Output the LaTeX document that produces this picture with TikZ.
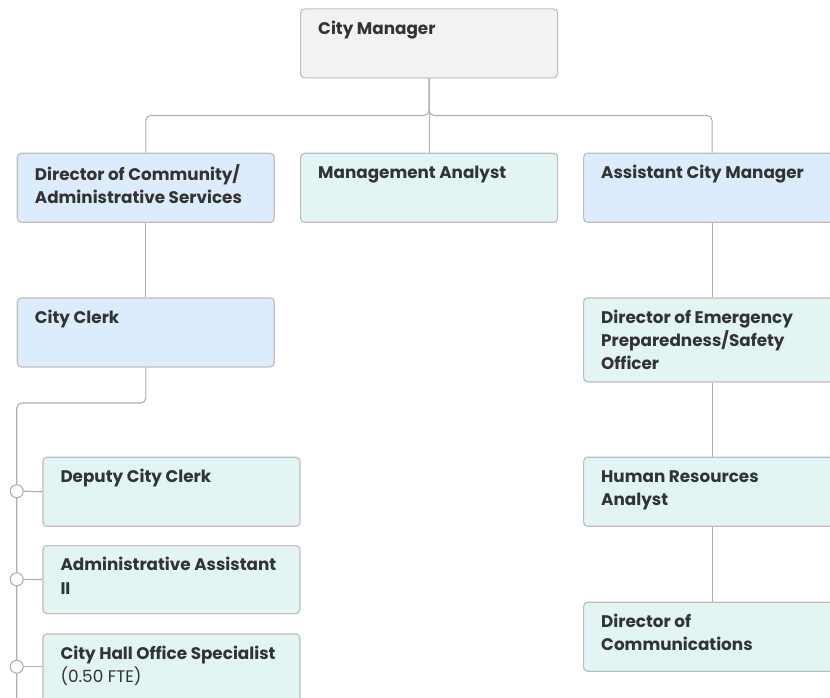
\documentclass[tikz,border=0pt]{standalone}
\usepackage{fontspec}
\setmainfont{Poppins}
\definecolor{boxline}{RGB}{190,190,190}
\definecolor{conline}{RGB}{175,175,175}
\definecolor{greyfill}{RGB}{242,242,242}
\definecolor{bluefill}{RGB}{220,236,252}
\definecolor{tealfill}{RGB}{226,244,244}
\definecolor{txt}{RGB}{51,51,51}
\tikzset{
  x=1pt,y=-1pt,
  orgbox/.style={draw=boxline, line width=1.2pt, rounded corners=4pt,
    minimum width=257pt, minimum height=69pt, anchor=north west, inner sep=0pt},
  lbl/.style={anchor=north west, xshift=18pt, yshift=-11.6pt, inner sep=0pt,
    align=left, text=txt, font=\fontsize{16.8pt}{23.3pt}\selectfont\bfseries},
  conn/.style={draw=conline, line width=1.1pt},
  knob/.style={circle, draw=conline, line width=1.1pt, fill=white, minimum size=13pt, inner sep=0pt}
}
\newcommand{\fl}{\rule{0pt}{14pt}}
\begin{document}
\begin{tikzpicture}
\useasboundingbox (0,0) rectangle (830,698);
\clip (0,0) rectangle (830,698);
% boxes
\node[orgbox, fill=greyfill, label={[lbl]north west:{\fl City Manager}}] (cm) at (300,8.3) {};
\node[orgbox, fill=bluefill, label={[lbl]north west:{\fl Director of Community/\\Administrative Services}}] (dcs) at (16.7,152.7) {};
\node[orgbox, fill=tealfill, label={[lbl]north west:{\fl Management Analyst}}] (ma) at (300,152.7) {};
\node[orgbox, fill=bluefill, label={[lbl]north west:{\fl Assistant City Manager}}] (acm) at (583,152.7) {};
\node[orgbox, fill=bluefill, label={[lbl]north west:{\fl City Clerk}}] (clerk) at (16.7,297.3) {};
\node[orgbox, fill=tealfill, minimum height=84pt, label={[lbl]north west:{\fl Director of Emergency\\Preparedness/Safety\\Officer}}] (epo) at (583,297.3) {};
\node[orgbox, fill=tealfill, label={[lbl]north west:{\fl Deputy City Clerk}}] (dep) at (42.3,456.7) {};
\node[orgbox, fill=tealfill, label={[lbl]north west:{\fl Human Resources\\Analyst}}] (hra) at (583,456.7) {};
\node[orgbox, fill=tealfill, minimum height=68pt, label={[lbl]north west:{\fl Administrative Assistant\\II}}] (adm) at (42.3,545) {};
\node[orgbox, fill=tealfill, label={[lbl]north west:{\fl Director of\\Communications}}] (dcom) at (583,601.7) {};
\node[orgbox, fill=tealfill, label={[lbl]north west:{\fl City Hall Office Specialist\\{\mdseries (0.50 FTE)}}}] (chs) at (42.3,633.3) {};
% connectors
\coordinate (busy) at (0,115.5);
\draw[conn, rounded corners=5pt] (dcs.north) -- (dcs.north |- busy) -- (cm.south |- busy) -- (cm.south);
\draw[conn, rounded corners=5pt] (acm.north) -- (acm.north |- busy) -- (cm.south |- busy) -- (cm.south);
\draw[conn] (cm.south) -- (ma.north);
\draw[conn] (dcs.south) -- (clerk.north);
\draw[conn] (acm.south) -- (epo.north);
\draw[conn] (epo.south) -- (hra.north);
\draw[conn] (hra.south) -- (dcom.north);
\coordinate (elbow) at (16.7,403);
\coordinate (trunkend) at (16.7,710);
\draw[conn, rounded corners=5pt] (clerk.south) -- (clerk.south |- elbow) -- (elbow) -- (trunkend);
\node[knob] (k1) at (16.7,491.2) {};
\node[knob] (k2) at (16.7,579.3) {};
\node[knob] (k3) at (16.7,666.7) {};
\draw[conn] (k1.east) -- (dep.west);
\draw[conn] (k2.east) -- (adm.west);
\draw[conn] (k3.east) -- (k3.east -| chs.west);
\end{tikzpicture}
\end{document}
